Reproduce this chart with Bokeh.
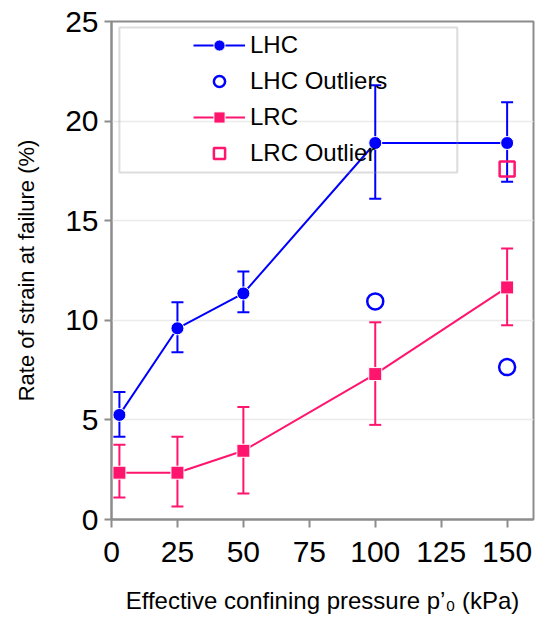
from bokeh.plotting import figure
from bokeh.models import (ColumnDataSource, Whisker, TeeHead, Legend, LegendItem,
                          BoxAnnotation, FixedTicker, Range1d)
from bokeh.embed import file_html
from bokeh.resources import INLINE

# ---- data ----
pressure = [3, 25, 50, 100, 150]
lhc_mean = [5.25, 9.6, 11.35, 18.9, 18.9]
lhc_low = [4.15, 8.4, 10.4, 16.1, 16.95]
lhc_high = [6.4, 10.9, 12.45, 21.8, 20.95]
lhc_out_x = [100, 150]
lhc_out_y = [10.95, 7.65]
lrc_mean = [2.35, 2.35, 3.45, 7.3, 11.65]
lrc_low = [1.1, 0.65, 1.3, 4.75, 9.75]
lrc_high = [3.75, 4.15, 5.65, 9.9, 13.6]
lrc_out_x = [150]
lrc_out_y = [17.6]
x_ticks = [0, 25, 50, 75, 100, 125, 150]
y_ticks = [0, 5, 10, 15, 20, 25]

BLUE = "#0000FF"
PINK = "#FF146E"
GRAY = "#8C8C8C"
FONT = "Liberation Sans"
NARROW = "Liberation Sans Narrow, Liberation Sans"

p = figure(width=537, height=619, output_backend="svg", toolbar_location=None,
           x_range=Range1d(0, 160), y_range=Range1d(0, 25),
           min_border_left=111, min_border_right=4, min_border_top=21, min_border_bottom=100)
p.background_fill_color = "white"
p.border_fill_color = "white"
p.outline_line_color = GRAY
p.outline_line_width = 2

p.xgrid.visible = False
p.ygrid.grid_line_color = "#EBEBEB"
p.ygrid.grid_line_width = 1.5

p.xaxis.ticker = FixedTicker(ticks=x_ticks)
p.yaxis.ticker = FixedTicker(ticks=y_ticks)
for ax in (p.xaxis, p.yaxis):
    ax.axis_line_color = GRAY
    ax.axis_line_width = 2
    ax.major_tick_line_color = GRAY
    ax.major_tick_line_width = 2
    ax.major_tick_in = 0
    ax.minor_tick_line_color = None
    ax.major_label_text_font = NARROW
    ax.major_label_text_font_size = "30px"
    ax.major_label_text_color = "black"
    ax.axis_label_text_font = FONT
    ax.axis_label_text_font_style = "normal"
    ax.axis_label_text_color = "black"
p.xaxis.axis_label_text_font_size = "24px"
p.yaxis.axis_label_text_font_size = "22px"
p.xaxis.major_tick_out = 8
p.yaxis.major_tick_out = 7
p.xaxis.major_label_standoff = 14
p.yaxis.major_label_standoff = 6
p.xaxis.axis_label = "Effective confining pressure p\u2019\u2080 (kPa)"
p.yaxis.axis_label = "Rate of strain at failure (%)"
p.xaxis.axis_label_standoff = 22
p.yaxis.axis_label_standoff = 23

lhc_src = ColumnDataSource(dict(x=pressure, y=lhc_mean, lo=lhc_low, hi=lhc_high))
lrc_src = ColumnDataSource(dict(x=pressure, y=lrc_mean, lo=lrc_low, hi=lrc_high))

for src, col in ((lhc_src, BLUE), (lrc_src, PINK)):
    w = Whisker(source=src, base="x", lower="lo", upper="hi",
                line_color=col, line_width=2,
                lower_head=TeeHead(size=12, line_color=col, line_width=2),
                upper_head=TeeHead(size=12, line_color=col, line_width=2))
    p.add_layout(w)

l1 = p.line("x", "y", source=lhc_src, line_color=BLUE, line_width=2)
m1 = p.scatter("x", "y", source=lhc_src, marker="circle", size=13,
               fill_color=BLUE, line_color="white", line_width=1)
o1 = p.scatter(lhc_out_x, lhc_out_y, marker="circle", size=16,
               fill_color=None, line_color=BLUE, line_width=2.5)
l2 = p.line("x", "y", source=lrc_src, line_color=PINK, line_width=2)
m2 = p.scatter("x", "y", source=lrc_src, marker="square", size=13,
               fill_color=PINK, line_color="white", line_width=1)
o2 = p.scatter(lrc_out_x, lrc_out_y, marker="square", size=15,
               fill_color=None, line_color=PINK, line_width=2.5)

legend = Legend(items=[
    LegendItem(label="LHC", renderers=[l1, m1]),
    LegendItem(label="LHC Outliers", renderers=[o1]),
    LegendItem(label="LRC", renderers=[l2, m2]),
    LegendItem(label="LRC Outlier", renderers=[o2]),
], location=(78, 348), padding=4, spacing=8, glyph_width=52, glyph_height=28,
    label_height=28, label_standoff=5, border_line_alpha=0,
    background_fill_alpha=0, label_text_font=FONT, label_text_font_size="24px",
    label_text_color="black", margin=0)
p.add_layout(legend, "center")

box = BoxAnnotation(left=3.0, right=131.1, top=24.7, bottom=17.42,
                    fill_alpha=0, line_color=GRAY, line_width=2)
p.add_layout(box)

open("out.html", "w").write(file_html(p, INLINE))
